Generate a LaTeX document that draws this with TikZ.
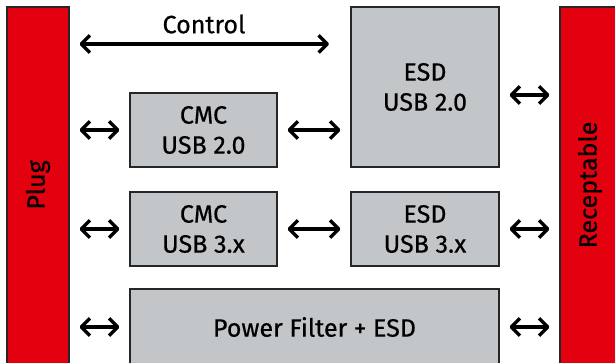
\documentclass[tikz,border=0pt]{standalone}
\usepackage{fontspec}
\setmainfont{Fira Sans}
\newfontfamily\diagfont{Fira Sans}[UprightFeatures={FakeBold=0.5}]
\usetikzlibrary{arrows.meta}

\definecolor{plugred}{RGB}{227,0,15}
\definecolor{boxgray}{RGB}{194,198,200}

\tikzset{
    bar/.style={draw=black!85, fill=plugred, line width=0.8pt, minimum width=46.5pt, minimum height=272.25pt, inner sep=0pt},
    block/.style={draw=black!85, fill=boxgray, line width=0.8pt, align=center, inner sep=0pt, font=\diagfont\fontsize{18.8}{22.5}\selectfont},
    link/.style={line width=2.5pt, line cap=round, {Straight Barb[length=6.5pt,width=13pt,line join=round]}-{Straight Barb[length=6.5pt,width=13pt,line join=round]}, shorten <=7.5pt, shorten >=7.5pt},
    bartext/.style={rotate=90, font=\diagfont\fontsize{18.8}{22.5}\selectfont}
}

\begin{document}
\begin{tikzpicture}[x=0.75pt, y=-0.75pt]
    \useasboundingbox (0,0) rectangle (615,363);

    % connectors on both sides
    \node[bar] (plug) at (38,188.5) {};
    \node[bar] (recept) at (591,188.5) {};
    \node[bartext] (plugtext) at (38,185) {Plug};
    \node[bartext] (recepttext) at (590,185) {Receptable};

    % blocks
    \node[block, minimum width=111pt, minimum height=120pt] (esd2) at (425,87) {ESD\\USB 2.0};
    \node[block, minimum width=110.25pt, minimum height=55.5pt] (cmc2) at (203.5,130) {CMC\\USB 2.0};
    \node[block, minimum width=110.25pt, minimum height=55.5pt] (cmc3) at (203.5,229) {CMC\\USB 3.x};
    \node[block, minimum width=111pt, minimum height=55.5pt] (esd3) at (425,229) {ESD\\USB 3.x};
    \node[block, minimum width=276.75pt, minimum height=57pt] (power) at (314.5,327) {Power Filter + ESD};

    % control line
    \node[font=\diagfont\fontsize{18.8}{22.5}\selectfont] (ctltext) at (204,24) {Control};
    \coordinate (ctl) at (329,44);
    \draw[link, shorten >=0pt] (plug.east |- ctl) -- (ctl);

    % signal paths
    \draw[link] (plug.east |- cmc2) -- (cmc2);
    \draw[link] (cmc2) -- (esd2.west |- cmc2);
    \draw[link] ([yshift=-6pt]esd2.east) -- ([yshift=-6pt]esd2.east -| recept.west);
    \draw[link] (plug.east |- cmc3) -- (cmc3);
    \draw[link] (cmc3) -- (esd3);
    \draw[link] (esd3) -- (recept.west |- esd3);
    \draw[link] (plug.east |- power) -- (power);
    \draw[link] (power) -- (recept.west |- power);
\end{tikzpicture}
\end{document}
